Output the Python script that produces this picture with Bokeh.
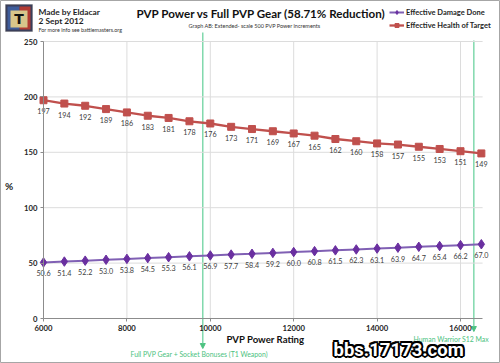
from bokeh.plotting import figure
from bokeh.models import (Label, Legend, LegendItem, Arrow, NormalHead,
                          BoxAnnotation, Range1d)
from bokeh.core.properties import value
from bokeh.embed import file_html
from bokeh.resources import INLINE

# ---------------- data ----------------
pvp_power = [6000, 6500, 7000, 7500, 8000, 8500, 9000, 9500, 10000, 10500, 11000,
             11500, 12000, 12500, 13000, 13500, 14000, 14500, 15000, 15500, 16000, 16500]
damage_done = [50.6, 51.4, 52.2, 53.0, 53.8, 54.5, 55.3, 56.1, 56.9, 57.7, 58.4,
               59.2, 60.0, 60.8, 61.5, 62.3, 63.1, 63.9, 64.7, 65.4, 66.2, 67.0]
health_target = [197, 194, 192, 189, 186, 183, 181, 178, 176, 173, 171,
                 169, 167, 165, 162, 160, 158, 157, 155, 153, 151, 149]
x_ticks = [6000, 8000, 10000, 12000, 14000, 16000]
y_ticks = [0, 50, 100, 150, 200, 250]
x_bounds = [6000, 16530]
y_bounds = [0, 250]
marker_power = [9820, 16320]
marker_labels = ["Full PVP Gear + Socket Bonuses (T1 Weapon)", "Human Warrior S12 Max"]
series_names = ["Effective Damage Done", "Effective Health of Target"]
title_text = "PVP Power vs Full PVP Gear (58.71% Reduction)"
subtitle_text = "Graph AB:  Extended- scale 500 PVP Power increments"
author_lines = ["Made by Eldacar", "2 Sept 2012", "For more info see battlemasters.org"]
x_label = "PVP Power Rating"
y_label = "%"
watermark = "bbs.17173.com"

# ---------------- layout (canvas pixels) ----------------
W, H = 500, 363
PL, PT, PB = 43.0, 41.0, 318.0        # plot-area edges on the canvas
PPX = 83.4 / 2000                      # pixels per PVP power unit
PPY = (PB - PT) / (y_bounds[1] - y_bounds[0])
X_START = x_bounds[0] - PL / PPX
X_END = X_START + W / PPX
Y_START = y_bounds[0] - (H - PB) / PPY
Y_END = Y_START + H / PPY

RED = "#C0504D"
PURPLE_LINE = "#8060B4"
PURPLE_MK = "#6A2FA0"
GREEN = "#6ED3A0"
GREEN_TXT = "#4CC280"
GRID = "#DCDCDC"
FONT = "Lato"


def dy(cy):
    return Y_START + (H - cy) / PPY


p = figure(width=W, height=H, x_range=Range1d(X_START, X_END), y_range=Range1d(Y_START, Y_END),
           output_backend="svg", toolbar_location=None,
           min_border=0, min_border_left=0, min_border_right=0,
           min_border_top=0, min_border_bottom=0)
p.outline_line_color = "#A6A6A6"
p.background_fill_color = "white"
p.border_fill_color = "white"
p.xgrid.visible = False
p.ygrid.visible = False

p.xaxis.ticker = x_ticks
p.yaxis.ticker = y_ticks
p.xaxis.fixed_location = y_bounds[0]
p.yaxis.fixed_location = x_bounds[0]
p.xaxis.bounds = tuple(x_bounds)
p.yaxis.bounds = tuple(y_bounds)
for ax in (p.xaxis, p.yaxis):
    ax.axis_line_color = "#8C8C8C"
    ax.major_tick_line_color = "#8C8C8C"
    ax.major_tick_out = 3
    ax.major_tick_in = 0
    ax.minor_tick_line_color = None
    ax.major_label_text_font = FONT
    ax.major_label_text_font_style = "bold"
    ax.major_label_text_font_size = "7.7px"
    ax.major_label_text_color = "#262626"
    ax.major_label_standoff = 3

# gridlines (inside the plot area only)
p.segment(x0=x_ticks[1:], y0=y_bounds[0], x1=x_ticks[1:], y1=y_bounds[1],
          line_color=GRID, line_width=1)
p.segment(x0=x_bounds[0], y0=y_ticks[1:], x1=x_bounds[1], y1=y_ticks[1:],
          line_color=GRID, line_width=1)

# marker arrows
arrow_span = [(32, 348), (40, 331)]
for mx, (sy0, sy1) in zip(marker_power, arrow_span):
    p.add_layout(Arrow(end=NormalHead(size=5, fill_color=GREEN_TXT, line_color=GREEN_TXT),
                       x_start=mx, y_start=dy(sy0), x_end=mx, y_end=dy(sy1),
                       line_color=GREEN, line_width=1.3, level="underlay"))

# series
l1 = p.line(pvp_power, health_target, line_color=RED, line_width=2.3)
s1 = p.scatter(pvp_power, health_target, marker="square", size=7,
               fill_color=RED, line_color=RED)
l2 = p.line(pvp_power, damage_done, line_color=PURPLE_LINE, line_width=2)
s2 = p.scatter(pvp_power, damage_done, marker="diamond", size=9.5,
               fill_color=PURPLE_MK, line_color=PURPLE_MK)

p.text(pvp_power, health_target, text=[str(v) for v in health_target],
       text_align="center", text_baseline="middle", y_offset=11,
       text_font=value(FONT), text_font_size="7.2px", text_color="#404040")
p.text(pvp_power, damage_done, text=[f"{v:.1f}" for v in damage_done],
       text_align="center", text_baseline="middle", y_offset=11,
       text_font=value(FONT), text_font_size="7.2px", text_color="#404040")

legend = Legend(items=[LegendItem(label=series_names[0], renderers=[l2, s2]),
                       LegendItem(label=series_names[1], renderers=[l1, s1])],
                location=(389, H - 30), orientation="vertical",
                background_fill_alpha=0, border_line_color=None,
                label_text_font=FONT, label_text_font_style="bold",
                label_text_font_size="7.5px", label_text_color="#1F1F1F",
                glyph_width=15, glyph_height=10, label_height=10,
                spacing=3, padding=0, margin=0, label_standoff=2)
p.add_layout(legend)


def lab(text, cx, cy, size, bold=False, color="#1F1F1F", align="left", font=FONT):
    lbl = Label(x=cx, y=H - cy, x_units="screen", y_units="screen", text=text,
                text_font=font, text_font_size=size,
                text_font_style="bold" if bold else "normal",
                text_color=color, text_align=align, text_baseline="middle")
    p.add_layout(lbl)
    return lbl


def box(l, r, t, b, color, line=None):
    p.add_layout(BoxAnnotation(left=l, right=r, top=H - t, bottom=H - b,
                               left_units="screen", right_units="screen",
                               top_units="screen", bottom_units="screen",
                               fill_color=color, fill_alpha=1,
                               line_color=line, line_width=1))


# logo
box(5, 32, 4, 31, "#3A3F5A", "#555555")
box(7, 19, 6, 29, "#3E5C9A")
box(19, 30, 6, 29, "#B23A32")
box(10, 27, 10, 27, "#D8C58A")
lab("T", 18.5, 18.5, "14px", bold=True, color="#111111", align="center", font="DejaVu Sans")

lab(author_lines[0], 38, 11, "8.4px", bold=True)
lab(author_lines[1], 38, 20.5, "8.4px", bold=True)
lab(author_lines[2], 38, 29, "5.4px", color="#333333")
lab(title_text, 136, 13.2, "11.6px", bold=True, color="#111111")
lab(subtitle_text, 188, 25, "5.5px", color="#333333")
lab(y_label, 8.5, 185, "10px", bold=True, color="#1F1F1F", align="center")
lab(x_label, 265, 339, "9.6px", bold=True, color="#111111", align="center")
lab(marker_labels[0], 130, 353, "6.9px", color=GREEN_TXT)
lab(marker_labels[1], 413, 338, "6.9px", color=GREEN_TXT)

# watermark (outlined text)
wx, wy = 333, 349
for ox, oy in [(-2, 0), (2, 0), (0, -2), (0, 2), (-1.5, -1.5), (1.5, 1.5), (-1.5, 1.5), (1.5, -1.5)]:
    lab(watermark, wx + ox, wy + oy, "18.5px", bold=True, color="black", font="Roboto")
lab(watermark, wx, wy, "18.5px", bold=True, color="white", font="Roboto")

open("out.html", "w").write(file_html(p, INLINE))
